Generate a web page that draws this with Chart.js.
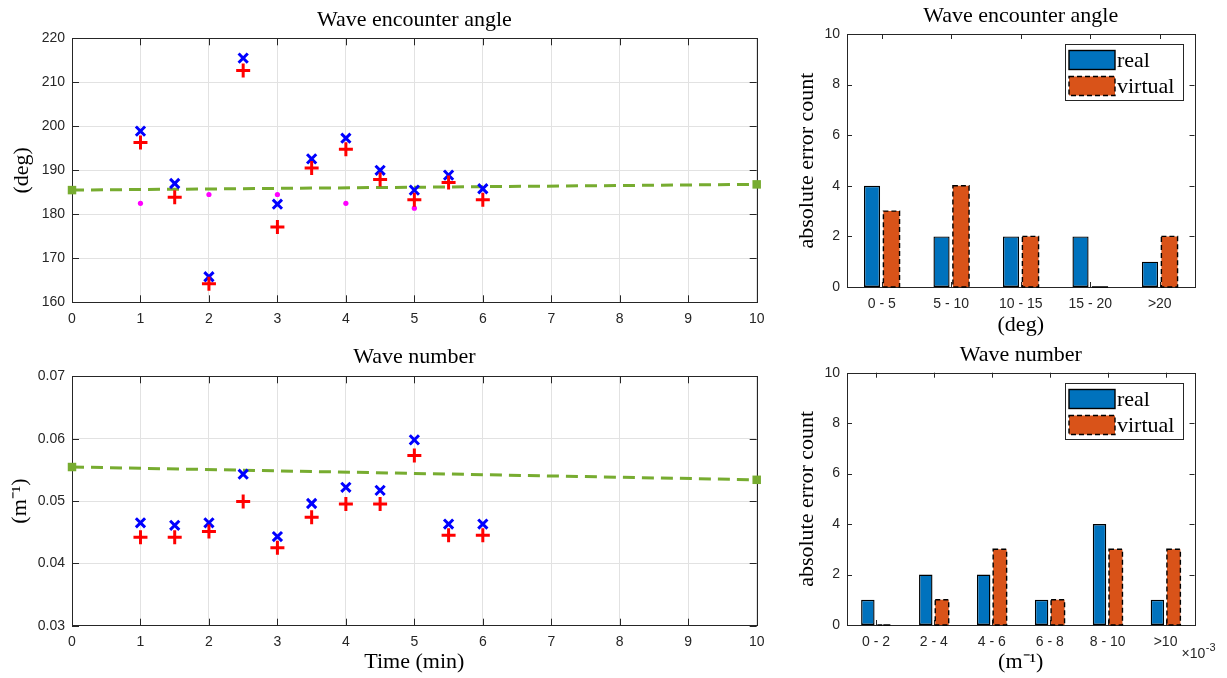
<!DOCTYPE html>
<html><head><meta charset="utf-8">
<script src="https://cdn.jsdelivr.net/npm/chart.js@4.4.1/dist/chart.umd.min.js"></script>
<style>
html,body{margin:0;padding:0;background:#fff;width:1227px;height:678px;overflow:hidden}
canvas{position:absolute;display:block}
</style></head><body>
<canvas id="c1" width="780" height="340" style="left:0;top:0;width:780px;height:340px"></canvas>
<canvas id="c2" width="780" height="338" style="left:0;top:340px;width:780px;height:338px"></canvas>
<canvas id="c3" width="447" height="340" style="left:780px;top:0;width:447px;height:340px"></canvas>
<canvas id="c4" width="447" height="338" style="left:780px;top:340px;width:447px;height:338px"></canvas>
<script>
// ---- data ----
const timeMin = [1, 1.5, 2, 2.5, 3, 3.5, 4, 4.5, 5, 5.5, 6];
const angleReal = [198.9, 187.0, 165.8, 215.5, 182.3, 192.6, 197.3, 190.0, 185.5, 188.9, 185.8];
const angleVirtual = [196.3, 183.9, 164.2, 212.7, 177.1, 190.5, 194.8, 187.9, 183.3, 187.2, 183.3];
const angleDotTime = [1, 2, 3, 4, 5];
const angleDot = [182.5, 184.5, 184.5, 182.5, 181.4];
const refTime = [0, 10];
const angleRef = [185.5, 186.8];
const numberReal = [0.0465, 0.0461, 0.0465, 0.0543, 0.0443, 0.0496, 0.0522, 0.0517, 0.0598, 0.0463, 0.0463];
const numberVirtual = [0.0442, 0.0442, 0.0451, 0.0499, 0.0425, 0.0474, 0.0495, 0.0495, 0.0573, 0.0445, 0.0445];
const numberRef = [0.05545, 0.0534];
const angleBins = ['0 - 5', '5 - 10', '10 - 15', '15 - 20', '>20'];
const angleErrReal = [4, 2, 2, 2, 1];
const angleErrVirtual = [3, 4, 2, 0, 2];
const numberBins = ['0 - 2', '2 - 4', '4 - 6', '6 - 8', '8 - 10', '>10'];
const numberErrReal = [1, 2, 2, 1, 4, 1];
const numberErrVirtual = [0, 1, 3, 1, 3, 3];

// ---- styles ----
const SERIF = '"Liberation Serif", "Times New Roman", serif';
const SANS = '"Liberation Sans", Arial, Helvetica, sans-serif';
const AX = '#262626';
const pts = (xs, ys) => xs.map((x, i) => ({x: x, y: ys[i]}));

const boxPlugin = {
  id: 'mbox',
  beforeDatasetsDraw(chart, args, opts) {
    const {ctx, chartArea: a, scales} = chart;
    const len = opts.len || 6;
    ctx.save();
    ctx.strokeStyle = AX;
    ctx.lineWidth = 1;
    ctx.beginPath();
    const xs = scales.x, ys = scales.y;
    xs.ticks.forEach((t, i) => {
      const px = Math.round(xs.getPixelForTick(i)) + 0.5;
      ctx.moveTo(px, a.bottom); ctx.lineTo(px, a.bottom - len);
      ctx.moveTo(px, a.top); ctx.lineTo(px, a.top + len);
    });
    ys.ticks.forEach((t, i) => {
      const py = Math.round(ys.getPixelForTick(i)) + 0.5;
      ctx.moveTo(a.left, py); ctx.lineTo(a.left + len, py);
      ctx.moveTo(a.right, py); ctx.lineTo(a.right - len, py);
    });
    ctx.stroke();
    ctx.strokeRect(Math.round(a.left) + 0.5, Math.round(a.top) + 0.5, Math.round(a.right - a.left), Math.round(a.bottom - a.top));
    ctx.restore();
  }
};

const dashPlugin = {
  id: 'dashBars',
  afterDatasetsDraw(chart) {
    const ctx = chart.ctx;
    chart.data.datasets.forEach((ds, di) => {
      if (!ds.dashedBorder) return;
      const meta = chart.getDatasetMeta(di);
      ctx.save();
      ctx.setLineDash([5, 3]);
      ctx.strokeStyle = '#000';
      ctx.lineWidth = 1.4;
      meta.data.forEach(bar => {
        const p = bar.getProps(['x', 'y', 'base', 'width'], true);
        ctx.strokeRect(p.x - p.width / 2, Math.min(p.y, p.base), p.width, Math.abs(p.base - p.y));
      });
      ctx.restore();
    });
  }
};

const legendPlugin = {
  id: 'boxLegend',
  afterDraw(chart) {
    const a = chart.chartArea, ctx = chart.ctx;
    const w = 118, h = 56;
    const x0 = Math.round(a.right - 12 - w), y0 = Math.round(a.top + 10);
    ctx.save();
    ctx.fillStyle = '#fff';
    ctx.fillRect(x0, y0, w, h);
    ctx.strokeStyle = AX; ctx.lineWidth = 1;
    ctx.strokeRect(x0 + 0.5, y0 + 0.5, w, h);
    chart.data.datasets.forEach((ds, i) => {
      const sy = y0 + 6.5 + i * 26;
      ctx.fillStyle = ds.backgroundColor;
      ctx.fillRect(x0 + 4, sy, 46, 19);
      ctx.setLineDash(ds.dashedBorder ? [5, 3] : []);
      ctx.strokeStyle = '#000'; ctx.lineWidth = 1.4;
      ctx.strokeRect(x0 + 4, sy, 46, 19);
      ctx.setLineDash([]);
      ctx.fillStyle = '#000';
      ctx.font = '22px ' + SERIF;
      ctx.textBaseline = 'alphabetic';
      ctx.fillText(ds.label, x0 + 52, sy + 16);
    });
    ctx.restore();
  }
};

const exponentPlugin = {
  id: 'exp',
  afterDraw(chart) {
    const ctx = chart.ctx, a = chart.chartArea;
    ctx.save();
    ctx.fillStyle = AX;
    ctx.textBaseline = 'alphabetic';
    ctx.font = '14px ' + SANS;
    const x = a.right - 13, y = a.bottom + 33;
    ctx.fillText('\u00d710', x, y);
    const w = ctx.measureText('\u00d710').width;
    ctx.font = '11px ' + SANS;
    ctx.fillText('-3', x + w + 0.5, y - 7);
    ctx.restore();
  }
};

function titleOpt(text, top, bottom) {
  return {display: true, fullSize: false, text: text, color: '#000',
    font: {family: SERIF, size: 22, weight: 'normal', lineHeight: 1.2},
    padding: {top: top, bottom: bottom}};
}
const tickFont = {family: SANS, size: 14};

function lineScales(yMin, yMax, yStep, yTitle, yTitlePad, xHeight, xTitle, fmt) {
  const x = {
    type: 'linear', min: 0, max: 10,
    ticks: {stepSize: 1, color: AX, font: tickFont, padding: 8, maxRotation: 0},
    grid: {color: '#e2e2e2', drawTicks: false, lineWidth: 1},
    border: {display: false},
    afterFit: s => { s.height = xHeight; }
  };
  if (xTitle) x.title = {display: true, text: xTitle, color: '#000',
    font: {family: SERIF, size: 22, lineHeight: 1.2}, padding: {top: 0, bottom: 3}};
  return {
    x: x,
    y: {
      type: 'linear', min: yMin, max: yMax,
      ticks: {stepSize: yStep, color: AX, font: tickFont, padding: 7, callback: fmt},
      grid: {color: '#e2e2e2', drawTicks: false, lineWidth: 1},
      border: {display: false},
      title: {display: true, text: yTitle, color: '#000',
        font: {family: SERIF, size: 22, lineHeight: 1.2}, padding: {top: yTitlePad, bottom: 0}},
      afterFit: s => { s.width = 72; }
    }
  };
}

function lineDatasets(realArr, virtArr, refArr, dots) {
  const ds = [
    {label: 'virtual', data: pts(timeMin, virtArr), showLine: false, pointStyle: 'cross',
      pointRadius: 7, pointBorderWidth: 3, pointBorderColor: '#ff0000', pointBackgroundColor: '#ff0000'},
    {label: 'real', data: pts(timeMin, realArr), showLine: false, pointStyle: 'crossRot',
      pointRadius: 6.5, pointBorderWidth: 3, pointBorderColor: '#0000ff', pointBackgroundColor: '#0000ff'}
  ];
  if (dots) ds.push({label: 'est', data: pts(angleDotTime, angleDot), showLine: false, pointStyle: 'circle',
      pointRadius: 2.6, pointBorderWidth: 0, pointBackgroundColor: '#ff00ff'});
  ds.push({label: 'reference', data: pts(refTime, refArr), showLine: true, borderColor: '#77AC30',
      borderWidth: 3, borderDash: [12, 7], pointStyle: 'rect', pointRadius: 6, pointBorderWidth: 0,
      pointBackgroundColor: '#77AC30', clip: false, order: 1});
  return ds;
}

const common = {responsive: false, animation: false, events: []};

new Chart(document.getElementById('c1'), {
  type: 'scatter',
  data: {datasets: lineDatasets(angleReal, angleVirtual, angleRef, true)},
  options: Object.assign({}, common, {
    layout: {padding: {left: 0, right: 23.3, top: 0, bottom: 0}},
    scales: lineScales(160, 220, 10, '(deg)', 9.3, 37.7, null, v => v),
    plugins: {legend: {display: false}, tooltip: {enabled: false},
      title: titleOpt('Wave encounter angle', 6.8, 5.1), mbox: {len: 7}}
  }),
  plugins: [boxPlugin]
});

new Chart(document.getElementById('c2'), {
  type: 'scatter',
  data: {datasets: lineDatasets(numberReal, numberVirtual, numberRef, false)},
  options: Object.assign({}, common, {
    layout: {padding: {left: 0, right: 23.3, top: 0, bottom: 0}},
    scales: lineScales(0.03, 0.07, 0.01, '(m\u207b\u00b9)', 7, 52.3, 'Time (min)', v => Number(v).toFixed(2)),
    plugins: {legend: {display: false}, tooltip: {enabled: false},
      title: titleOpt('Wave number', 3.8, 6.1), mbox: {len: 7}}
  }),
  plugins: [boxPlugin]
});

function barScales(xTitle, xTitlePad) {
  return {
    x: {
      type: 'category',
      ticks: {color: AX, font: tickFont, padding: 9, maxRotation: 0},
      grid: {display: false, drawTicks: false},
      border: {display: false},
      title: {display: true, text: xTitle, color: '#000',
        font: {family: SERIF, size: 22, lineHeight: 1.2}, padding: {top: 0, bottom: xTitlePad}},
      afterFit: s => { s.height = 53; }
    },
    y: {
      type: 'linear', min: 0, max: 10,
      ticks: {stepSize: 2, color: AX, font: tickFont, padding: 7},
      grid: {display: false, drawTicks: false},
      border: {display: false},
      title: {display: true, text: 'absolute error count', color: '#000',
        font: {family: SERIF, size: 22, lineHeight: 1.2}, padding: {top: 14, bottom: 0}},
      afterFit: s => { s.width = 67; }
    }
  };
}
function barDatasets(realArr, virtArr) {
  return [
    {label: 'real', data: realArr, backgroundColor: '#0072BD', borderColor: '#000', borderWidth: 1.4,
      borderSkipped: false, categoryPercentage: 0.56, barPercentage: 0.83},
    {label: 'virtual', data: virtArr, backgroundColor: '#D95319', borderWidth: 0, dashedBorder: true,
      categoryPercentage: 0.56, barPercentage: 0.83}
  ];
}

new Chart(document.getElementById('c3'), {
  type: 'bar',
  data: {labels: angleBins, datasets: barDatasets(angleErrReal, angleErrVirtual)},
  options: Object.assign({}, common, {
    layout: {padding: {left: 0, right: 32.5, top: 0, bottom: 0}},
    scales: barScales('(deg)', 1.8),
    plugins: {legend: {display: false}, tooltip: {enabled: false},
      title: titleOpt('Wave encounter angle', 3, 4.6), mbox: {len: 5}}
  }),
  plugins: [boxPlugin, dashPlugin, legendPlugin]
});

new Chart(document.getElementById('c4'), {
  type: 'bar',
  data: {labels: numberBins, datasets: barDatasets(numberErrReal, numberErrVirtual)},
  options: Object.assign({}, common, {
    layout: {padding: {left: 0, right: 32.5, top: 0, bottom: 0}},
    scales: barScales('(m\u207b\u00b9)', 2.8),
    plugins: {legend: {display: false}, tooltip: {enabled: false},
      title: titleOpt('Wave number', 2.3, 4), mbox: {len: 5}}
  }),
  plugins: [boxPlugin, dashPlugin, legendPlugin, exponentPlugin]
});
</script>
</body></html>
